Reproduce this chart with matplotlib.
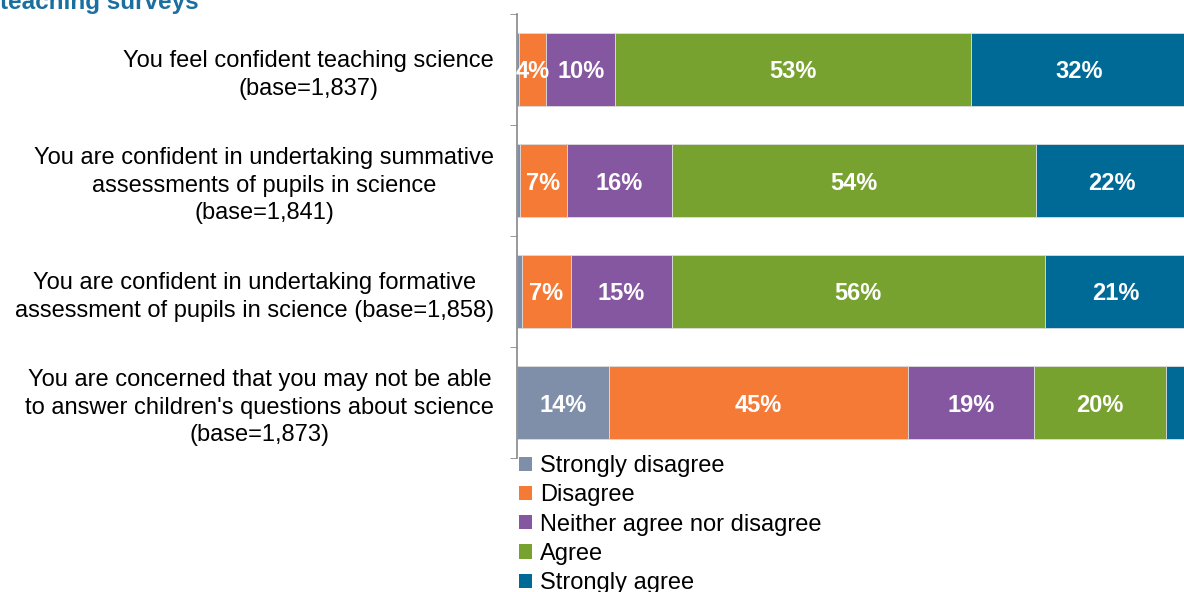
import matplotlib
matplotlib.use("Agg")
import matplotlib.pyplot as plt
from matplotlib.patches import Patch

plt.rcParams['font.family'] = ['Liberation Sans', 'DejaVu Sans']

categories = [
    "You feel confident teaching science\n(base=1,837)",
    "You are confident in undertaking summative\nassessments of pupils in science\n(base=1,841)",
    "You are confident in undertaking formative\nassessment of pupils in science (base=1,858)",
    "You are concerned that you may not be able\nto answer children's questions about science\n(base=1,873)",
]
series_names = ["Strongly disagree", "Disagree", "Neither agree nor disagree", "Agree", "Strongly agree"]
strongly_disagree = [0.3, 0.4, 0.7, 13.7]
disagree = [4.0, 7.1, 7.4, 44.7]
neither = [10.4, 15.6, 15.0, 18.8]
agree = [53.0, 54.4, 55.7, 19.7]
strongly_agree = [32.3, 22.5, 21.2, 3.1]
series_values = [strongly_disagree, disagree, neither, agree, strongly_agree]
colors = ["#7F8FA9", "#F47A36", "#8457A0", "#78A22F", "#006A97"]
title = "teaching surveys"

W, H = 1184, 592
fig = plt.figure(figsize=(W / 100, H / 100), dpi=100)
ax = fig.add_axes([517 / W, 1 - 458 / H, 670 / W, 444 / H])

y = list(range(len(categories)))
left = [0.0] * len(categories)
for name, vals, col in zip(series_names, series_values, colors):
    ax.barh(y, vals, left=left, height=0.665, color=col,
            edgecolor="#dcdcdc", linewidth=0.6, label=name)
    for yi, (l, v) in enumerate(zip(left, vals)):
        if v >= 3.5:
            ax.text(l + v / 2, yi, f"{round(v)}%", ha="center", va="center_baseline",
                    color="white", fontsize=17, fontweight="bold")
    left = [l + v for l, v in zip(left, vals)]

ax.set_xlim(0, 100)
ax.set_ylim(len(categories) - 0.5, -0.5)
ax.set_yticks(y)
ax.set_yticklabels(categories, fontsize=17)
for lab in ax.get_yticklabels():
    lab.set_multialignment("center")
    lab.set_linespacing(1.33)
ax.tick_params(axis="y", which="major", length=0, pad=16.5)
ax.set_yticks([i - 0.5 for i in range(len(categories) + 1)], minor=True)
ax.tick_params(axis="y", which="minor", length=5, color="#888888", direction="out")
ax.set_xticks([])
for s in ["top", "right", "bottom"]:
    ax.spines[s].set_visible(False)
ax.spines["left"].set_color("#888888")
ax.spines["left"].set_linewidth(1.2)

handles = [Patch(facecolor=c, edgecolor="none") for c in colors]
fig.legend(handles, series_names, loc="upper left",
           bbox_to_anchor=(519 / W, 1 - 455 / H), frameon=False,
           fontsize=17, handlelength=0.55, handleheight=0.55,
           handletextpad=0.35, labelspacing=0.31, borderaxespad=0, borderpad=0)

fig.text(0 / W, 1 - 9 / H, title, ha="left", va="baseline", fontsize=17.5,
         fontweight="bold", color="#1B6FA0")

fig.savefig("out.png", dpi=100)
